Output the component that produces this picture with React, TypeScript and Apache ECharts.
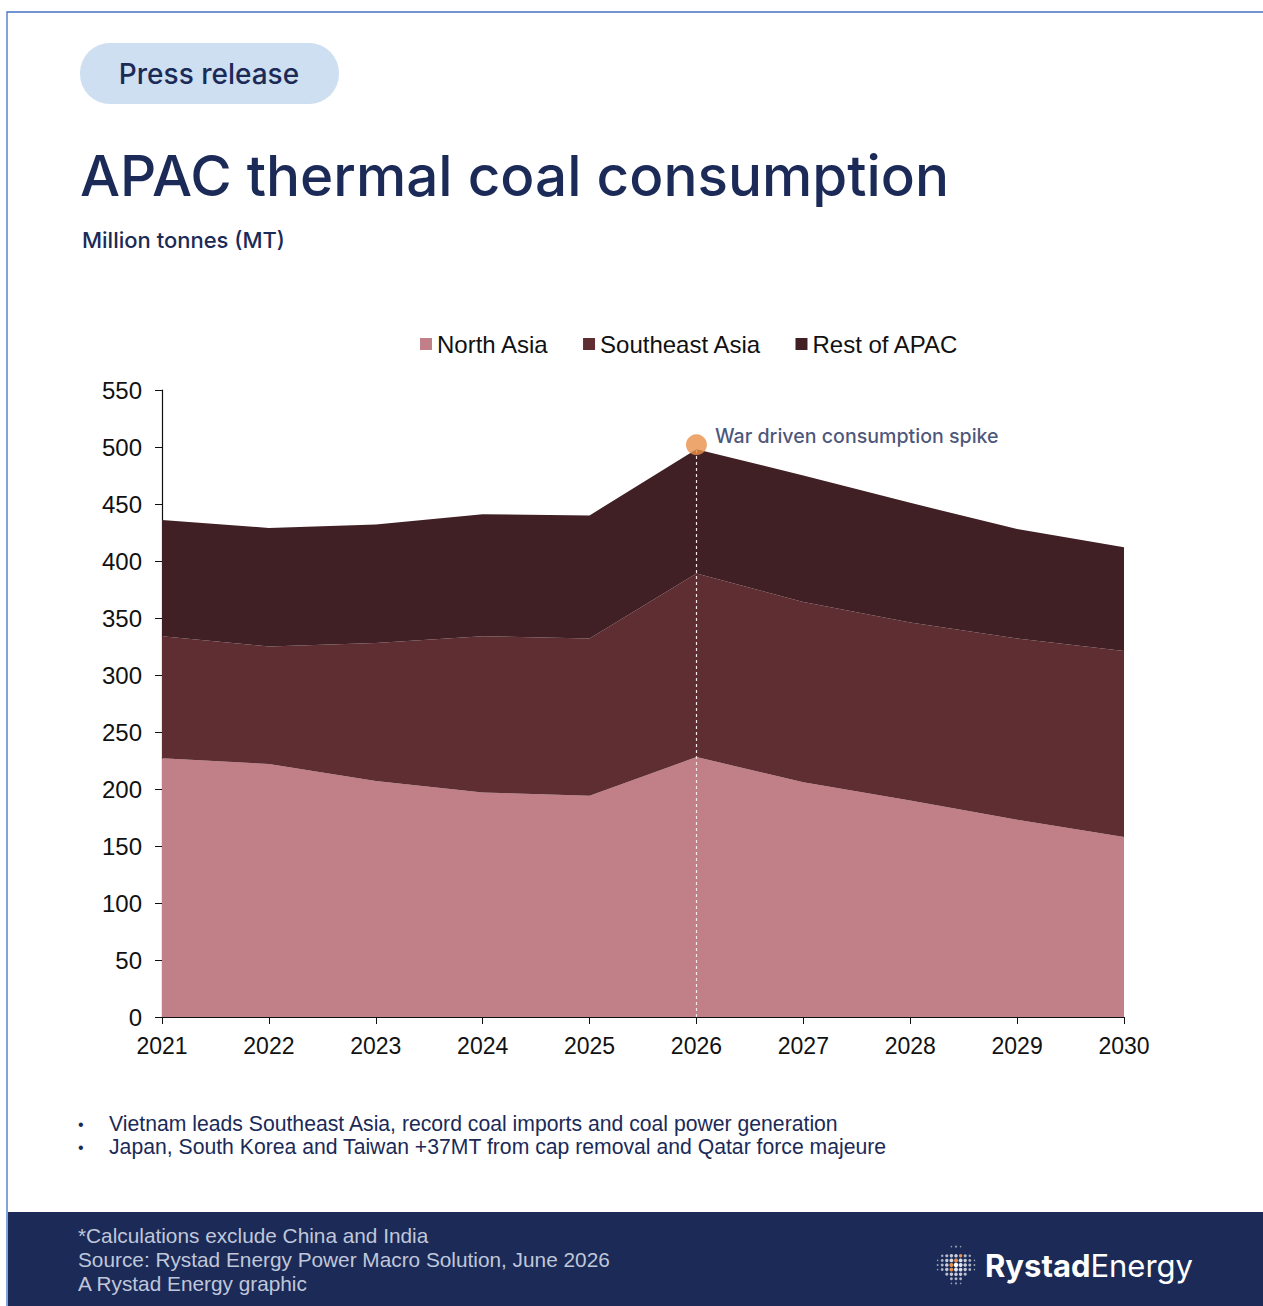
import React, { useEffect, useRef } from "react";
import * as echarts from "echarts";

const years = ["2021", "2022", "2023", "2024", "2025", "2026", "2027", "2028", "2029", "2030"];
const northAsia = [227, 222, 207, 197, 194, 228, 206, 190, 173, 158];
const southeastAsia = [107, 103, 121, 137, 138, 161, 158, 156, 159, 163];
const restOfApac = [102, 104, 104, 107, 108, 109, 111, 105, 96, 91];
const yTicks = { min: 0, max: 550, interval: 50 };
const spikeYear = "2026";
const spikeDot = 502;
const spikeTop = 498;

const NAVY = "#1b2a57";
const FONT = "Liberation Sans, Arial, sans-serif";
const INTER = "Inter, sans-serif";

function globeDots() {
  const out: any[] = [];
  const cx = 956, cy = 1265, r = 19, step = 4.6;
  const orange = new Set(["2,-3", "1,-2", "0,-1", "-1,0", "-1,1", "3,-4"]);
  for (let i = -5; i <= 5; i++) {
    for (let j = -5; j <= 5; j++) {
      const x = cx + i * step, y = cy + j * step;
      const d = Math.hypot(x - cx, y - cy);
      if (d > r) continue;
      const k = 1 - d / r;
      const rad = 0.7 + 1.5 * Math.sqrt(k);
      const isO = orange.has(i + "," + j);
      out.push({
        type: "circle",
        shape: { cx: x, cy: y, r: rad },
        style: { fill: isO ? "#e8914a" : "#ffffff", opacity: isO ? 1 : 0.55 + 0.45 * k },
        silent: true,
      });
    }
  }
  return out;
}

export default function App() {
  const ref = useRef<HTMLDivElement>(null);
  useEffect(() => {
    document.body.style.margin = "0";
    const chart = echarts.init(ref.current!, undefined, { renderer: "svg" });
    const areaSeries = (name: string, data: number[], color: string, extra: any = {}) => ({
      name,
      type: "line",
      stack: "total",
      data,
      symbol: "none",
      lineStyle: { width: 0 },
      areaStyle: { color, opacity: 1 },
      itemStyle: { color },
      z: 2,
      ...extra,
    });
    chart.setOption({
      animation: false,
      backgroundColor: "#ffffff",
      grid: { left: 162, right: 139, top: 390, bottom: 289 },
      legend: {
        left: 415,
        top: 327,
        icon: "rect",
        itemWidth: 12,
        itemHeight: 12,
        itemGap: 34,
        textStyle: { fontFamily: FONT, fontSize: 24, color: "#111111" },
        data: ["North Asia", "Southeast Asia", "Rest of APAC"],
      },
      xAxis: {
        type: "category",
        data: years,
        boundaryGap: false,
        axisLine: { lineStyle: { color: "#111111", width: 1.2 } },
        axisTick: { show: true, length: 7, alignWithLabel: true, lineStyle: { color: "#111111" } },
        axisLabel: { fontFamily: FONT, fontSize: 23, color: "#111111", margin: 17 },
        splitLine: { show: false },
      },
      yAxis: {
        type: "value",
        min: yTicks.min,
        max: yTicks.max,
        interval: yTicks.interval,
        axisLine: { show: true, lineStyle: { color: "#111111", width: 1.2 } },
        axisTick: { show: true, length: 7, lineStyle: { color: "#111111" } },
        axisLabel: { fontFamily: FONT, fontSize: 24, color: "#111111", margin: 20 },
        splitLine: { show: false },
      },
      series: [
        areaSeries("North Asia", northAsia, "#c17f87", {
          markLine: {
            silent: true,
            symbol: "none",
            label: { show: false },
            lineStyle: { color: "#f4ecec", type: [3, 3], width: 1.2 },
            data: [[{ coord: [spikeYear, 0] }, { coord: [spikeYear, spikeTop] }]],
            z: 10,
          },
        }),
        areaSeries("Southeast Asia", southeastAsia, "#5f2e33"),
        areaSeries("Rest of APAC", restOfApac, "#402024"),
        {
          name: "spike",
          type: "scatter",
          data: [[spikeYear, spikeDot]],
          symbolSize: 21,
          itemStyle: { color: "#e8914a" },
          z: 20,
          label: {
            show: true,
            position: "right",
            distance: 8,
            offset: [0, -9],
            formatter: "War driven consumption spike",
            fontFamily: INTER,
            fontWeight: 500,
            fontSize: 19.6,
            color: NAVY,
          },
        },
      ],
      graphic: [
        { type: "rect", shape: { x: 7, y: 12, width: 1300, height: 1300 }, style: { fill: "none", stroke: "#4472c4", lineWidth: 1.3 }, silent: true },
        { type: "rect", shape: { x: 80, y: 43, width: 259, height: 61, r: 30 }, style: { fill: "#cddff0" } },
        { type: "text", x: 209, y: 74, style: { text: "Press release", fontFamily: INTER, fontWeight: 500, fontSize: 28, fill: NAVY, align: "center", verticalAlign: "middle" } },
        { type: "text", x: 80, y: 175, style: { text: "APAC thermal coal consumption", fontFamily: INTER, fontWeight: 500, fontSize: 56.6, fill: NAVY, verticalAlign: "middle" } },
        { type: "text", x: 82, y: 240, style: { text: "Million tonnes (MT)", fontFamily: INTER, fontWeight: 500, fontSize: 22, fill: NAVY, verticalAlign: "middle" } },
        { type: "text", x: 78, y: 1124, style: { text: "•", fontFamily: FONT, fontSize: 16, fill: NAVY, verticalAlign: "middle" } },
        { type: "text", x: 109, y: 1123, style: { text: "Vietnam leads Southeast Asia, record coal imports and coal power generation", fontFamily: FONT, fontSize: 21.2, fill: NAVY, verticalAlign: "middle" } },
        { type: "text", x: 78, y: 1147, style: { text: "•", fontFamily: FONT, fontSize: 16, fill: NAVY, verticalAlign: "middle" } },
        { type: "text", x: 109, y: 1146, style: { text: "Japan, South Korea and Taiwan +37MT from cap removal and Qatar force majeure", fontFamily: FONT, fontSize: 21.2, fill: NAVY, verticalAlign: "middle" } },
        { type: "rect", shape: { x: 8, y: 1212, width: 1260, height: 100 }, style: { fill: "#1b2a57" }, silent: true },
        { type: "text", x: 78, y: 1235, style: { text: "*Calculations exclude China and India", fontFamily: FONT, fontSize: 20.8, fill: "#c0c7da", verticalAlign: "middle" } },
        { type: "text", x: 78, y: 1259, style: { text: "Source: Rystad Energy Power Macro Solution, June 2026", fontFamily: FONT, fontSize: 20.8, fill: "#c0c7da", verticalAlign: "middle" } },
        { type: "text", x: 78, y: 1283, style: { text: "A Rystad Energy graphic", fontFamily: FONT, fontSize: 20.8, fill: "#c0c7da", verticalAlign: "middle" } },
        ...globeDots(),
        {
          type: "text",
          x: 985,
          y: 1265,
          style: {
            text: "{b|Rystad}{r|Energy}",
            verticalAlign: "middle",
            rich: {
              b: { fontFamily: INTER, fontWeight: "bold", fontSize: 31, fill: "#ffffff", color: "#ffffff" },
              r: { fontFamily: INTER, fontSize: 31, fill: "#ffffff", color: "#ffffff" },
            },
          },
        },
      ],
    });
    return () => chart.dispose();
  }, []);
  return <div ref={ref} style={{ width: 1263, height: 1306 }} />;
}
